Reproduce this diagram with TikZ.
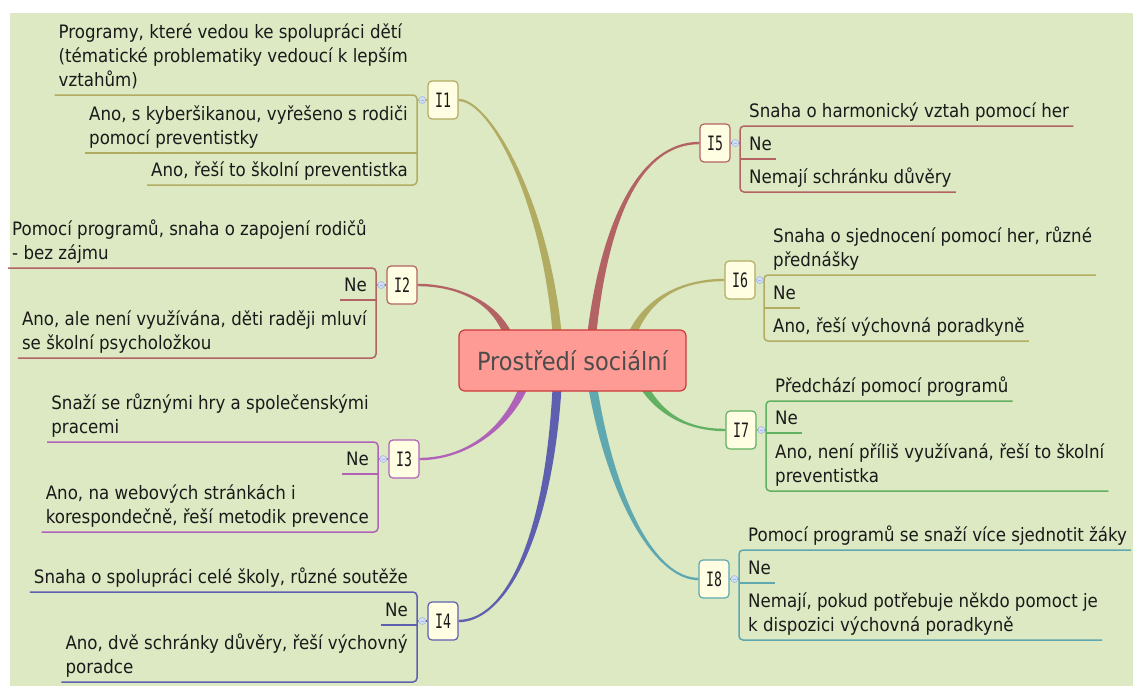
\documentclass[tikz,border=0pt]{standalone}
\usepackage{fontspec}
\usepackage{graphicx}
\usetikzlibrary{calc,backgrounds}
\newfontfamily\mmfont{DejaVu Sans Condensed}
\newfontfamily\mmmono{DejaVu Sans Mono}
\definecolor{bgc}{HTML}{DCE9C3}
\definecolor{olv}{HTML}{B2AC62}
\definecolor{rbr}{HTML}{B36363}
\definecolor{pur}{HTML}{B062B8}
\definecolor{blu}{HTML}{5F5FB0}
\definecolor{tea}{HTML}{5FA8B0}
\definecolor{grn}{HTML}{62B062}
\definecolor{cream}{HTML}{FFFDE2}
\definecolor{rootfill}{HTML}{FF9B95}
\definecolor{rootline}{HTML}{CC3B3B}
\definecolor{mkfill}{HTML}{D3DEF5}
\definecolor{mkline}{HTML}{A3B8E2}
\definecolor{txt}{HTML}{1A1A1A}

% tapered branch: colour, base point, control 1, control 2, end point, bend sign
\newcommand\mmbranch[6]{%
  \fill[#1] ($#2+(-4.5,0)$) .. controls ($#3+(-3.5,0)$) and ($#4+(0,{1.2*(#6)})$) .. ($#5+(0,{1.2*(#6)})$)
    -- ($#5+(0,{-1.2*(#6)})$) .. controls ($#4+(0,{-1.2*(#6)})$) and ($#3+(3.5,0)$) .. ($#2+(4.5,0)$) -- cycle;}

\tikzset{
  kid/.style={inner xsep=4pt, inner ysep=1pt, align=left, text=txt,
    font=\mmfont\fontsize{18.5}{24}\selectfont, execute at end node=\strut},
  lkid/.style={kid, anchor=south east},
  rkid/.style={kid, anchor=south west},
  ibox/.style={draw=#1, fill=cream, rounded corners=4pt, line width=1.2pt,
    minimum width=30pt, minimum height=38pt, inner sep=0pt, text=txt,
    font=\mmmono\fontsize{16.5}{18}\selectfont},
  link/.style={draw=#1, line width=1.5pt},
  spine/.style={draw=#1, line width=1.5pt, rounded corners=4pt},
  marker/.style={circle, minimum size=7pt, inner sep=0pt, fill=mkfill, draw=mkline, line width=0.6pt,
    path picture={\draw[mkline, line width=0.7pt]
      ($(path picture bounding box.center)+(-1.6,0)$) -- ($(path picture bounding box.center)+(1.6,0)$);}},
}
\newcommand\ilabel[1]{\scalebox{0.8}[1.2]{#1}}

\begin{document}
\begin{tikzpicture}[x=1pt, y=-1pt]
\useasboundingbox (0,0) rectangle (1133,686);

% central topic and its topic boxes
\node[draw=rootline, fill=rootfill, line width=1.2pt, rounded corners=6pt,
  minimum width=227pt, minimum height=61pt, inner sep=0pt, text=black!70,
  font=\mmfont\fontsize{25}{30}\selectfont] (root) at (572.5,360.5) {Prostředí sociální};

\node[ibox=olv] (i1) at (443,100) {\ilabel{I1}};
\node[ibox=rbr] (i2) at (402,285) {\ilabel{I2}};
\node[ibox=pur] (i3) at (404,459) {\ilabel{I3}};
\node[ibox=blu] (i4) at (443,621) {\ilabel{I4}};
\node[ibox=rbr] (i5) at (715,143) {\ilabel{I5}};
\node[ibox=olv] (i6) at (740,280) {\ilabel{I6}};
\node[ibox=grn] (i7) at (741,430) {\ilabel{I7}};
\node[ibox=tea] (i8) at (714,579) {\ilabel{I8}};

% canvas and tapered branches, kept beneath the boxes
\begin{scope}[on background layer]
\fill[bgc] (10,13) rectangle (1133,686);
\mmbranch{olv}{(root.north)+(-15.5,3)}{(545,200)}{(490,100)}{(i1.east)}{1}
\mmbranch{rbr}{(root.north)+(-65.5,3)}{(492,300)}{(455,285)}{(i2.east)}{1}
\mmbranch{pur}{(root.south)+(-49.5,-3)}{(505,430)}{(465,459)}{(i3.east)}{-1}
\mmbranch{blu}{(root.south)+(-15.5,-3)}{(548,540)}{(505,621)}{(i4.east)}{-1}
\mmbranch{rbr}{(root.north)+(19.5,3)}{(605,220)}{(640,143)}{(i5.west)}{-1}
\mmbranch{olv}{(root.north)+(60.5,3)}{(650,295)}{(685,280)}{(i6.west)}{-1}
\mmbranch{grn}{(root.south)+(72.5,-3)}{(665,420)}{(695,430)}{(i7.west)}{1}
\mmbranch{tea}{(root.south)+(20.5,-3)}{(612,500)}{(655,579)}{(i8.west)}{1}
\end{scope}

% ---------- I1 ----------
\coordinate (s1) at (417,100);
\node[lkid] (k11) at (412,95) {Programy, které vedou ke spolupráci dětí\\(tématické problematiky vedoucí k lepším\\vztahům)};
\node[lkid] (k12) at (412,153) {Ano, s kyberšikanou, vyřešeno s rodiči\\pomocí preventistky};
\node[lkid] (k13) at (412,185) {Ano, řeší to školní preventistka};
\path[spine=olv] (k11.south west) -- (k11.south west -| s1) -- (k13.south west -| s1) -- (k13.south west);
\path[link=olv] (k12.south west) -- (k12.south west -| s1);
\path[link=olv] (i1.west) -- (s1);
\node[marker] at ($(i1.west)!0.5!(s1)$) {};

% ---------- I2 ----------
\coordinate (s2) at (376,285);
\node[lkid] (k21) at (371,268) {Pomocí programů, snaha o zapojení rodičů\\- bez zájmu};
\node[lkid] (k22) at (371,300) {Ne};
\node[lkid] (k23) at (371,358) {Ano, ale není využívána, děti raději mluví\\se školní psycholožkou};
\path[spine=rbr] (k21.south west) -- (k21.south west -| s2) -- (k23.south west -| s2) -- (k23.south west);
\path[link=rbr] (k22.south west) -- (k22.south west -| s2);
\path[link=rbr] (i2.west) -- (s2);
\node[marker] at ($(i2.west)!0.5!(s2)$) {};

% ---------- I3 ----------
\coordinate (s3) at (378,459);
\node[lkid] (k31) at (373,442) {Snaží se různými hry a společenskými\\pracemi};
\node[lkid] (k32) at (373,474) {Ne};
\node[lkid] (k33) at (373,532) {Ano, na webových stránkách i\\korespondečně, řeší metodik prevence};
\path[spine=pur] (k31.south west) -- (k31.south west -| s3) -- (k33.south west -| s3) -- (k33.south west);
\path[link=pur] (k32.south west) -- (k32.south west -| s3);
\path[link=pur] (i3.west) -- (s3);
\node[marker] at ($(i3.west)!0.5!(s3)$) {};

% ---------- I4 ----------
\coordinate (s4) at (417,621);
\node[lkid] (k41) at (412,592) {Snaha o spolupráci celé školy, různé soutěže};
\node[lkid] (k42) at (412,625) {Ne};
\node[lkid] (k43) at (412,682) {Ano, dvě schránky důvěry, řeší výchovný\\poradce};
\path[spine=blu] (k41.south west) -- (k41.south west -| s4) -- (k43.south west -| s4) -- (k43.south west);
\path[link=blu] (k42.south west) -- (k42.south west -| s4);
\path[link=blu] (i4.west) -- (s4);
\node[marker] at ($(i4.west)!0.5!(s4)$) {};

% ---------- I5 ----------
\coordinate (s5) at (740,143);
\node[rkid] (k51) at (745,126) {Snaha o harmonický vztah pomocí her};
\node[rkid] (k52) at (745,159) {Ne};
\node[rkid] (k53) at (745,192) {Nemají schránku důvěry};
\path[spine=rbr] (k51.south east) -- (k51.south east -| s5) -- (k53.south east -| s5) -- (k53.south east);
\path[link=rbr] (k52.south east) -- (k52.south east -| s5);
\path[link=rbr] (i5.east) -- (s5);
\node[marker] at ($(i5.east)!0.5!(s5)$) {};

% ---------- I6 ----------
\coordinate (s6) at (764,280);
\node[rkid] (k61) at (769,275) {Snaha o sjednocení pomocí her, různé\\přednášky};
\node[rkid] (k62) at (769,308) {Ne};
\node[rkid] (k63) at (769,341) {Ano, řeší výchovná poradkyně};
\path[spine=olv] (k61.south east) -- (k61.south east -| s6) -- (k63.south east -| s6) -- (k63.south east);
\path[link=olv] (k62.south east) -- (k62.south east -| s6);
\path[link=olv] (i6.east) -- (s6);
\node[marker] at ($(i6.east)!0.5!(s6)$) {};

% ---------- I7 ----------
\coordinate (s7) at (766,430);
\node[rkid] (k71) at (771,401) {Předchází pomocí programů};
\node[rkid] (k72) at (771,433) {Ne};
\node[rkid] (k73) at (771,491) {Ano, není příliš využívaná, řeší to školní\\preventistka};
\path[spine=grn] (k71.south east) -- (k71.south east -| s7) -- (k73.south east -| s7) -- (k73.south east);
\path[link=grn] (k72.south east) -- (k72.south east -| s7);
\path[link=grn] (i7.east) -- (s7);
\node[marker] at ($(i7.east)!0.5!(s7)$) {};

% ---------- I8 ----------
\coordinate (s8) at (739,579);
\node[rkid] (k81) at (744,550) {Pomocí programů se snaží více sjednotit žáky};
\node[rkid] (k82) at (744,583) {Ne};
\node[rkid] (k83) at (744,640) {Nemají, pokud potřebuje někdo pomoct je\\k dispozici výchovná poradkyně};
\path[spine=tea] (k81.south east) -- (k81.south east -| s8) -- (k83.south east -| s8) -- (k83.south east);
\path[link=tea] (k82.south east) -- (k82.south east -| s8);
\path[link=tea] (i8.east) -- (s8);
\node[marker] at ($(i8.east)!0.5!(s8)$) {};
\end{tikzpicture}
\end{document}
